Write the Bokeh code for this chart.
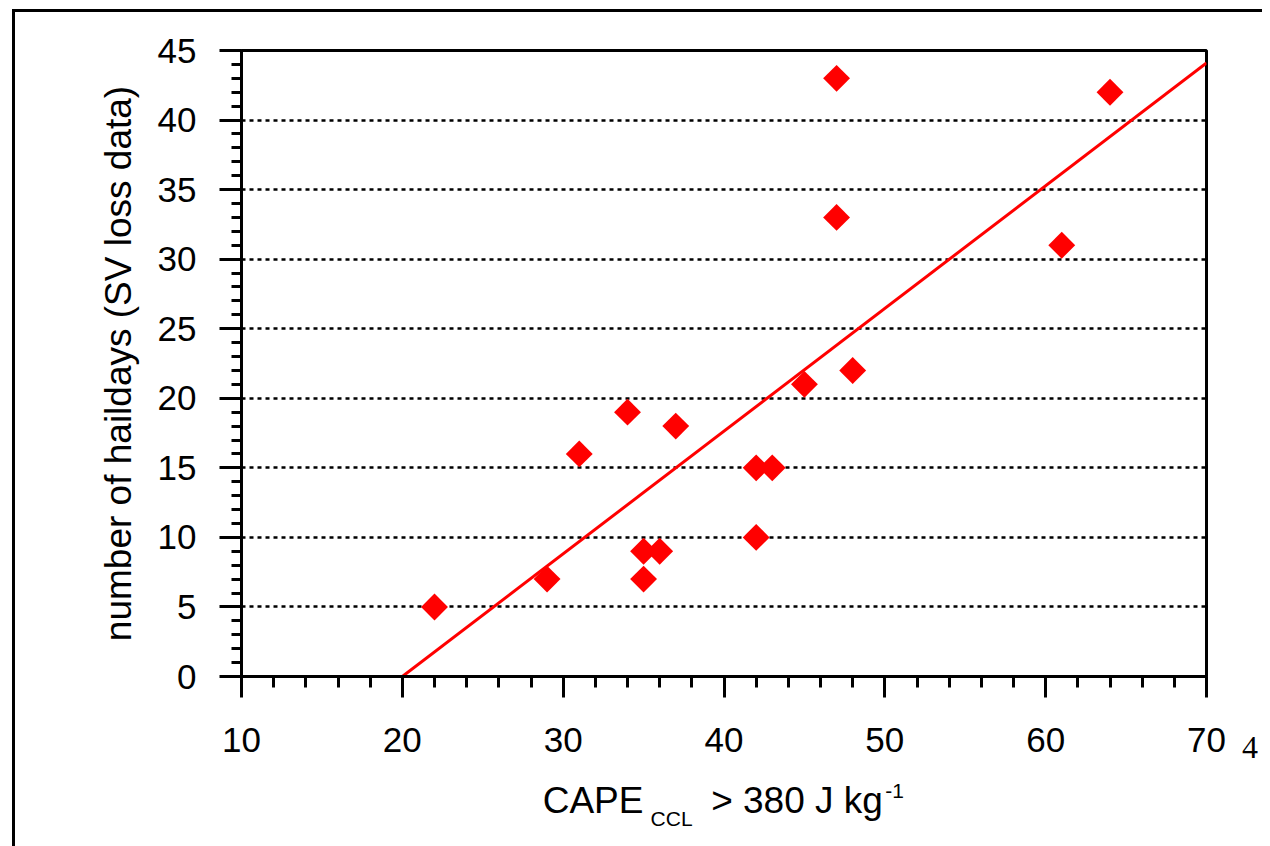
import numpy as np
from bokeh.plotting import figure
from bokeh.models import Label, Range1d, SingleIntervalTicker, FixedTicker, LinearAxis
from bokeh.embed import file_html
from bokeh.resources import INLINE

# ---- data ----
cape_ccl = [22, 29, 31, 34, 35, 35, 36, 37, 42, 42, 43, 45, 47, 47, 48, 61, 64]
haildays = [5, 7, 16, 19, 9, 7, 9, 18, 15, 10, 15, 21, 43, 33, 22, 31, 42]
fit_x = [20, 70]
fit_y = [0, 44.1]
x_limits = (10, 70)
y_limits = (0, 45)

# x-axis title pieces: (x-centre in data units: text)
title_main = {31.86: "CAPE", 44.54: "> 380 J kg"}
title_small = {36.74: "\nCCL", 50.6: "-1\n"}

FONT = "Liberation Sans"

p = figure(width=1250, height=837,
           x_range=Range1d(*x_limits), y_range=Range1d(*y_limits),
           output_backend="svg", toolbar_location=None,
           min_border_left=229, min_border_top=41,
           min_border_right=56, min_border_bottom=170)
p.margin = (9, 0, 0, 12)
p.styles = {"box-shadow": "inset 3px 3px 0 0 black"}
p.border_fill_color = None
p.background_fill_color = "white"
p.outline_line_color = "black"
p.outline_line_width = 3

# grid
p.xgrid.visible = False
p.ygrid.grid_line_color = "black"
p.ygrid.grid_line_width = 2.5
p.ygrid.grid_line_dash = "4 4"

# axes
p.xaxis.ticker = SingleIntervalTicker(interval=10, num_minor_ticks=5)
p.yaxis.ticker = SingleIntervalTicker(interval=5, num_minor_ticks=5)
for ax in (p.xaxis, p.yaxis):
    ax.axis_line_color = "black"
    ax.axis_line_width = 3
    ax.major_tick_line_color = "black"
    ax.major_tick_line_width = 3
    ax.minor_tick_line_color = "black"
    ax.minor_tick_line_width = 3
    ax.major_tick_in = 0
    ax.minor_tick_in = 0
    ax.major_label_text_font = FONT
    ax.major_label_text_font_size = "35px"
    ax.major_label_text_color = "black"

p.xaxis.major_tick_out = 21
p.xaxis.minor_tick_out = 11
p.xaxis.major_label_standoff = 30
p.yaxis.major_tick_out = 22
p.yaxis.minor_tick_out = 10
p.yaxis.major_label_standoff = 23

p.yaxis.axis_label = "number of haildays (SV loss data)"
p.yaxis.axis_label_text_font = FONT
p.yaxis.axis_label_text_font_size = "37px"
p.yaxis.axis_label_text_font_style = "normal"
p.yaxis.axis_label_text_color = "black"
p.yaxis.axis_label_standoff = 16

# x-axis title, drawn as tick labels of two bare extra axes
def text_axis(labels, size, standoff, line_height=1.2):
    ax = LinearAxis(ticker=FixedTicker(ticks=list(labels.keys())),
                    major_label_overrides=dict(labels))
    ax.axis_line_color = None
    ax.major_tick_line_color = None
    ax.minor_tick_line_color = None
    ax.major_tick_out = 0
    ax.minor_tick_out = 0
    ax.major_label_standoff = standoff
    ax.major_label_text_font = FONT
    ax.major_label_text_font_size = size
    ax.major_label_text_color = "black"
    ax.major_label_text_line_height = line_height
    p.add_layout(ax, "below")

text_axis(title_main, "37px", 25)
text_axis(title_small, "21px", -45, 1.22)

# regression line and points
p.line(fit_x, fit_y, line_color="#ff0000", line_width=3)
p.scatter(cape_ccl, haildays, marker="square", size=19, angle=np.pi / 4,
          fill_color="#ff0000", line_color=None)

# stray page mark at the right edge of the scan
p.add_layout(Label(x=72.2, y=-5.1, text="4", text_font="Liberation Serif",
                   text_font_size="32px", text_color="black",
                   text_baseline="alphabetic"), "right")

open("out.html", "w").write(file_html(p, INLINE))
